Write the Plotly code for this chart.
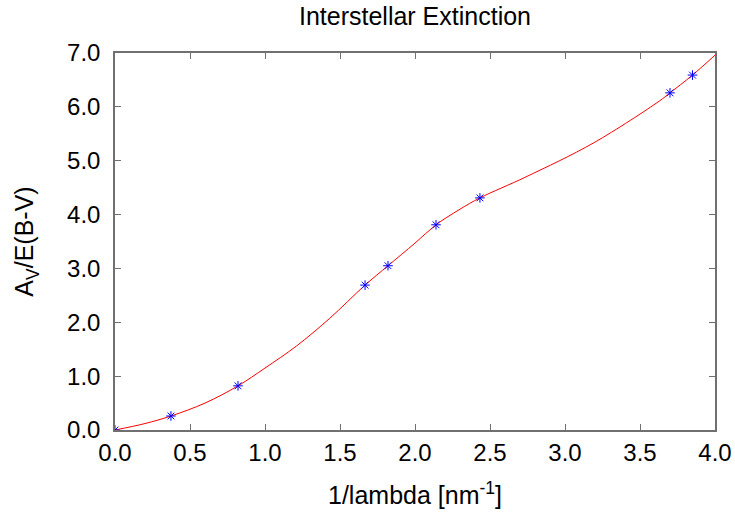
import plotly.graph_objects as go

# Measured data points
inv_lambda = [0.0, 0.373, 0.82, 1.667, 1.82, 2.14, 2.433, 3.70, 3.85]
av_ebv = [0.0, 0.26, 0.82, 2.69, 3.05, 3.81, 4.31, 6.26, 6.59]

# Smooth fitted curve
fit_x = [0.0, 0.2, 0.373, 0.6, 0.82, 1.0, 1.21, 1.43, 1.667, 1.82, 2.0, 2.14, 2.3, 2.433, 2.74, 3.19, 3.63, 3.70, 3.85, 4.0]
fit_y = [0.0, 0.12, 0.26, 0.50, 0.82, 1.15, 1.56, 2.07, 2.69, 3.05, 3.47, 3.81, 4.10, 4.31, 4.70, 5.33, 6.11, 6.26, 6.59, 6.96]

x_ticks = [0.0, 0.5, 1.0, 1.5, 2.0, 2.5, 3.0, 3.5, 4.0]
y_ticks = [0.0, 1.0, 2.0, 3.0, 4.0, 5.0, 6.0, 7.0]

FONT = "Liberation Sans, Arial, sans-serif"

fig = go.Figure()
fig.add_trace(go.Scatter(x=fit_x, y=fit_y, mode="lines",
                         line=dict(color="#ff0000", width=1, shape="spline", smoothing=1.0),
                         showlegend=False, hoverinfo="skip"))
fig.add_trace(go.Scatter(x=inv_lambda, y=av_ebv, mode="markers",
                         marker=dict(symbol="asterisk-open", size=8, color="#0000ff",
                                     line=dict(color="#0000ff", width=1)),
                         showlegend=False))

axis_common = dict(
    showgrid=False, ticks="inside", ticklen=6, tickwidth=1, tickcolor="#707070",
    showline=True, linecolor="#707070", linewidth=1.5, mirror="ticks",
    tickfont=dict(family=FONT, size=24, color="black"),
    automargin=False,
)

fig.update_layout(
    width=735, height=514,
    margin=dict(l=115, r=20, t=53, b=84),
    paper_bgcolor="white", plot_bgcolor="white",
    font=dict(family=FONT, size=24, color="black"),
    title=dict(text="Interstellar Extinction", x=0.5646, xanchor="center",
               y=1 - 16 / 514, yanchor="middle", yref="container",
               font=dict(family=FONT, size=25, color="black")),
    xaxis=dict(range=[0, 4], tickvals=x_ticks, ticktext=[f"{v:.1f}" for v in x_ticks],
               zeroline=True, zerolinecolor="black", zerolinewidth=1.5,
               ticklabelstandoff=0,
               title=dict(text="1/lambda [nm<sup>-1</sup>]", standoff=22,
                          font=dict(family=FONT, size=25)),
               **axis_common),
    yaxis=dict(range=[0, 7], tickvals=y_ticks, ticktext=[f"{v:.1f}" for v in y_ticks],
               zeroline=False, ticklabelstandoff=8,
               title=dict(text="A<sub>V</sub>/E(B-V)", standoff=26,
                          font=dict(family=FONT, size=25)),
               **axis_common),
)

fig.write_html("out.html")
